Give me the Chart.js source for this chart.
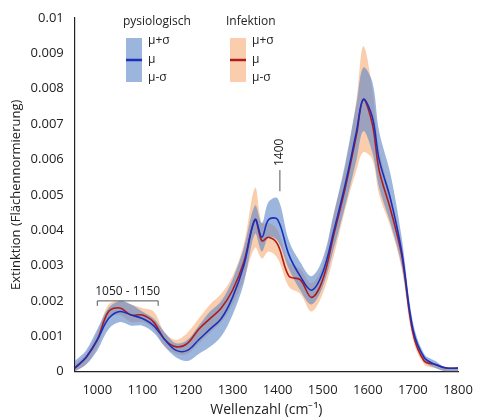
<!DOCTYPE html>
<html><head><meta charset="utf-8">
<script src="https://cdn.jsdelivr.net/npm/chart.js@4"></script>
<style>html,body{margin:0;background:#fff}#w{width:480px;height:418px}</style>
</head><body><div id="w"><canvas id="c"></canvas></div>
<script>
const wavenumbers=[950,975,1000,1025,1050,1075,1100,1125,1150,1175,1200,1225,1250,1275,1300,1325,1350,1365,1380,1400,1425,1450,1475,1500,1525,1550,1575,1590,1610,1625,1650,1675,1700,1725,1750,1775,1800];
const physMean=[.0001,.0004,.0009,.0015,.0017,.0016,.0015,.0013,.0009,.0006,.0006,.0009,.0012,.0015,.0021,.0030,.0043,.0038,.0043,.0043,.0033,.0027,.0023,.0028,.0040,.0053,.0068,.0077,.0072,.0060,.0049,.0034,.0012,.0004,.0002,.0001,.0001];
const physUp=[.0003,.0006,.0012,.0018,.0020,.0019,.0017,.0015,.0011,.0008,.0009,.0013,.0017,.0020,.0026,.0035,.0047,.0042,.0048,.0049,.0037,.0031,.0027,.0032,.0045,.0059,.0076,.0086,.0082,.0068,.0056,.0038,.0014,.0005,.0003,.0001,.0001];
const physLow=[.0000,.0002,.0006,.0012,.0014,.0013,.0013,.0011,.0007,.0004,.0003,.0005,.0007,.0010,.0016,.0025,.0039,.0034,.0038,.0037,.0029,.0023,.0019,.0024,.0035,.0047,.0060,.0068,.0062,.0052,.0042,.0030,.0010,.0003,.0001,.0000,.0000];
const infMean=[.0001,.0004,.0009,.0017,.0018,.0016,.0016,.0014,.0009,.0007,.0008,.0012,.0015,.0018,.0023,.0031,.0043,.0037,.0038,.0036,.0027,.0026,.0021,.0026,.0039,.0052,.0067,.0077,.0070,.0057,.0046,.0033,.0011,.0003,.0002,.0001,.0001];
const infUp=[.0002,.0005,.0011,.0019,.0020,.0019,.0018,.0017,.0011,.0009,.0011,.0015,.0019,.0022,.0027,.0036,.0052,.0042,.0042,.0040,.0031,.0029,.0025,.0030,.0045,.0058,.0077,.0092,.0080,.0063,.0050,.0036,.0013,.0004,.0002,.0001,.0001];
const infLow=[.0000,.0002,.0007,.0015,.0016,.0014,.0014,.0012,.0007,.0005,.0005,.0008,.0011,.0014,.0019,.0026,.0035,.0032,.0034,.0032,.0024,.0022,.0017,.0022,.0033,.0046,.0057,.0062,.0060,.0050,.0041,.0029,.0009,.0002,.0001,.0000,.0000];
const yTicks=[0,0.001,0.002,0.003,0.004,0.005,0.006,0.007,0.008,0.009,0.01];
const xTicks=[1000,1100,1200,1300,1400,1500,1600,1700,1800];
const pts=a=>a.map((v,i)=>({x:wavenumbers[i],y:v}));
const BLUE='rgba(95,135,200,0.62)',ORANGE='rgba(245,165,105,0.55)';
const F='"Open Sans", sans-serif';
const ds=(d,o)=>Object.assign({data:pts(d),pointRadius:0,borderWidth:0,tension:0.35,fill:false,order:2},o);
const deco={id:'deco',afterDraw(ch){const c=ch.ctx,x=ch.scales.x,y=ch.scales.y;c.save();
c.fillStyle='#222';c.font='12px '+F;c.textAlign='left';c.textBaseline='middle';
c.fillText('pysiologisch',123,22);c.fillText('Infektion',226,22);
[[126,BLUE,'#1a2fc0'],[230,ORANGE,'#b01c1c']].forEach(([lx,col,lc])=>{c.fillStyle=col;c.fillRect(lx,38,16,44);c.strokeStyle=lc;c.lineWidth=2.5;c.beginPath();c.moveTo(lx,60);c.lineTo(lx+16,60);c.stroke();
c.fillStyle='#222';c.font='12px '+F;c.fillText('μ+σ',lx+22,41);c.fillText('μ',lx+22,60);c.fillText('μ-σ',lx+22,78);});
c.strokeStyle='#555';c.lineWidth=1;const ax=x.getPixelForValue(1405);c.beginPath();c.moveTo(ax,y.getPixelForValue(0.0057));c.lineTo(ax,y.getPixelForValue(0.0051));c.stroke();
c.save();c.translate(ax,y.getPixelForValue(0.0062));c.rotate(-Math.PI/2);c.textAlign='center';c.fillStyle='#222';c.font='12px '+F;c.fillText('1400',0,0);c.restore();
const b1=x.getPixelForValue(1000),b2=x.getPixelForValue(1135),by=y.getPixelForValue(0.002);
c.beginPath();c.moveTo(b1,by+5);c.lineTo(b1,by);c.lineTo(b2,by);c.lineTo(b2,by+5);c.stroke();
c.textAlign='center';c.fillStyle='#222';c.font='12px '+F;c.fillText('1050 - 1150',(b1+b2)/2,by-9);
c.restore();}};
new Chart(document.getElementById('c'),{type:'line',data:{datasets:[
ds(physUp,{backgroundColor:BLUE}),ds(physLow,{backgroundColor:BLUE,fill:'-1'}),
ds(infUp,{backgroundColor:ORANGE}),ds(infLow,{backgroundColor:ORANGE,fill:'-1'}),
ds(physMean,{borderColor:'#1a2fc0',borderWidth:1.6,order:0}),ds(infMean,{borderColor:'#b01c1c',borderWidth:1.6,order:1})]},
options:{responsive:true,maintainAspectRatio:false,animation:false,
layout:{padding:{left:4,right:22,top:18,bottom:0}},
plugins:{legend:{display:false},tooltip:{enabled:false}},
scales:{x:{type:'linear',min:950,max:1800,grid:{display:false,drawTicks:true},border:{color:'#222',width:1.2},
afterBuildTicks:s=>{s.ticks=xTicks.map(v=>({value:v}))},ticks:{color:'#222',font:{family:F,size:13},maxRotation:0,callback:v=>String(v)},
title:{display:true,text:'Wellenzahl (cm⁻¹)',color:'#222',font:{family:F,size:14},padding:{top:0,bottom:0}}},
y:{min:0,max:0.01,grid:{display:false},border:{color:'#222',width:1.2},
afterBuildTicks:s=>{s.ticks=yTicks.map(v=>({value:v}))},ticks:{color:'#222',font:{family:F,size:13},callback:v=>v===0?'0':String(+v.toFixed(3))},
title:{display:true,text:'Extinktion (Flächennormierung)',color:'#222',font:{family:F,size:13}}}}},
plugins:[deco]});
</script></body></html>
